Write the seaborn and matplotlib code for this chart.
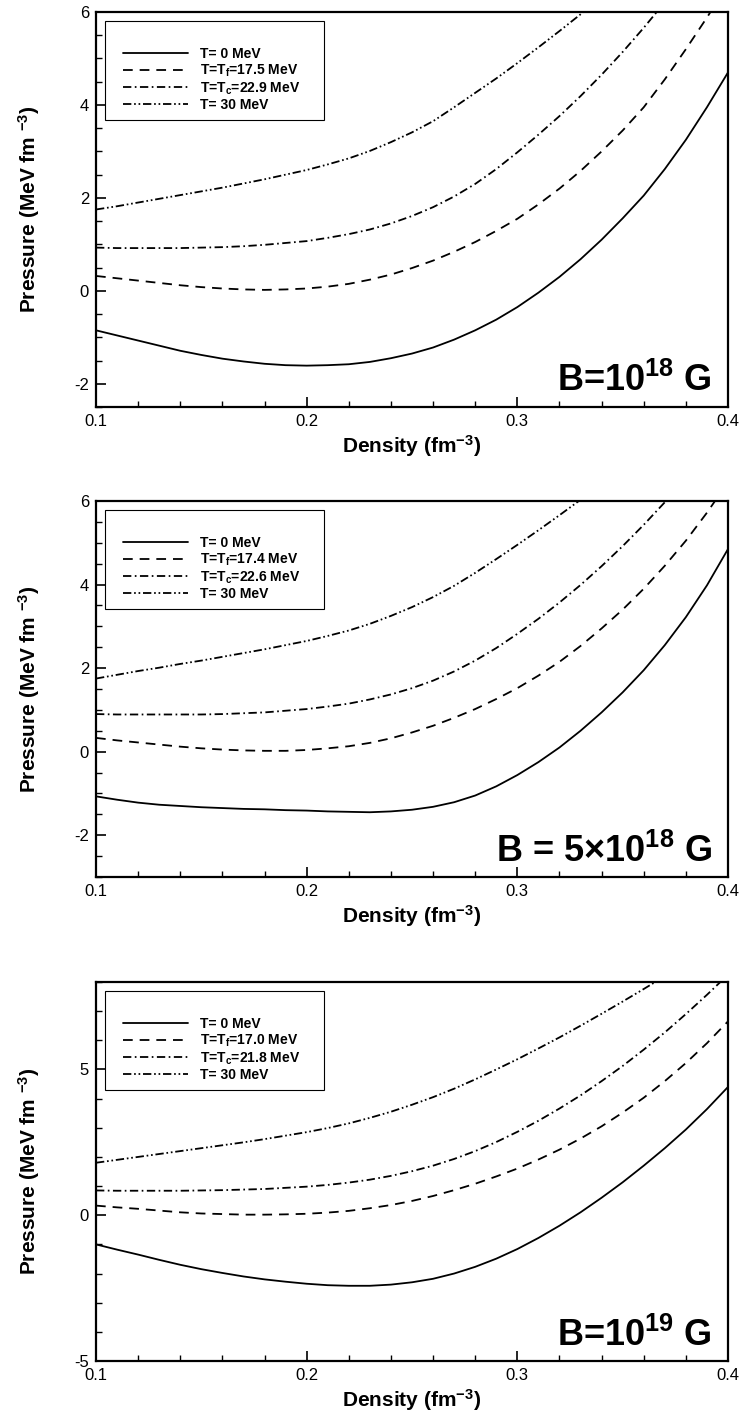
import numpy as np
import pandas as pd
import matplotlib
matplotlib.use("Agg")
import matplotlib.pyplot as plt
import matplotlib.patches as mpatches
import seaborn as sns
from matplotlib.ticker import MultipleLocator

# ---------------- data ----------------
density = [0.10, 0.11, 0.12, 0.13, 0.14, 0.15, 0.16, 0.17, 0.18, 0.19, 0.20,
           0.21, 0.22, 0.23, 0.24, 0.25, 0.26, 0.27, 0.28, 0.29, 0.30,
           0.31, 0.32, 0.33, 0.34, 0.35, 0.36, 0.37, 0.38, 0.39, 0.40]

# Panel 1: B = 1e18 G
p1_T0 = [-0.85, -0.96, -1.07, -1.18, -1.29, -1.38, -1.46, -1.52, -1.57, -1.60, -1.61,
         -1.60, -1.58, -1.53, -1.45, -1.35, -1.22, -1.05, -0.85, -0.62, -0.35,
         -0.04, 0.30, 0.68, 1.10, 1.56, 2.05, 2.62, 3.25, 3.95, 4.70]
p1_Tf = [0.32, 0.27, 0.22, 0.17, 0.12, 0.08, 0.05, 0.03, 0.02, 0.03, 0.05,
         0.09, 0.15, 0.24, 0.35, 0.49, 0.65, 0.84, 1.05, 1.29, 1.55,
         1.86, 2.20, 2.58, 3.00, 3.45, 3.95, 4.55, 5.20, 5.88, 6.60]
p1_Tc = [0.93, 0.92, 0.92, 0.92, 0.92, 0.93, 0.94, 0.96, 0.99, 1.03, 1.07,
         1.14, 1.22, 1.32, 1.45, 1.61, 1.80, 2.03, 2.30, 2.62, 2.98,
         3.36, 3.76, 4.19, 4.65, 5.14, 5.66, 6.21, 6.79, 7.40, 8.00]
p1_T30 = [1.75, 1.82, 1.90, 1.98, 2.06, 2.14, 2.22, 2.31, 2.40, 2.50, 2.60,
          2.72, 2.85, 3.01, 3.20, 3.41, 3.65, 3.95, 4.26, 4.57, 4.90,
          5.24, 5.59, 5.95, 6.32, 6.70, 7.10, 7.50, 7.90, 8.30, 8.70]

# Panel 2: B = 5e18 G
p2_T0 = [-1.07, -1.15, -1.22, -1.27, -1.30, -1.33, -1.35, -1.37, -1.38, -1.40, -1.41,
         -1.43, -1.44, -1.45, -1.43, -1.39, -1.32, -1.21, -1.05, -0.83, -0.56,
         -0.25, 0.10, 0.50, 0.94, 1.42, 1.95, 2.55, 3.22, 3.98, 4.85]
p2_Tf = [0.33, 0.27, 0.22, 0.17, 0.12, 0.08, 0.05, 0.03, 0.02, 0.02, 0.04,
         0.08, 0.13, 0.21, 0.32, 0.46, 0.62, 0.81, 1.02, 1.26, 1.52,
         1.82, 2.15, 2.53, 2.95, 3.40, 3.90, 4.45, 5.05, 5.72, 6.45]
p2_Tc = [0.90, 0.89, 0.89, 0.89, 0.89, 0.89, 0.90, 0.92, 0.94, 0.98, 1.02,
         1.08, 1.15, 1.25, 1.37, 1.52, 1.70, 1.92, 2.18, 2.48, 2.82,
         3.18, 3.57, 3.99, 4.44, 4.92, 5.43, 5.97, 6.54, 7.14, 7.77]
p2_T30 = [1.75, 1.84, 1.93, 2.01, 2.10, 2.18, 2.27, 2.36, 2.45, 2.55, 2.65,
          2.77, 2.90, 3.06, 3.25, 3.46, 3.70, 3.97, 4.28, 4.61, 4.95,
          5.30, 5.66, 6.03, 6.41, 6.80, 7.20, 7.60, 8.00, 8.40, 8.80]

# Panel 3: B = 1e19 G
p3_T0 = [-1.00, -1.18, -1.35, -1.53, -1.70, -1.85, -1.98, -2.10, -2.20, -2.28, -2.35,
         -2.40, -2.42, -2.42, -2.38, -2.30, -2.18, -2.00, -1.77, -1.49, -1.16,
         -0.78, -0.36, 0.10, 0.60, 1.13, 1.70, 2.30, 2.94, 3.64, 4.40]
p3_Tf = [0.33, 0.27, 0.22, 0.16, 0.10, 0.06, 0.04, 0.02, 0.02, 0.03, 0.05,
         0.09, 0.15, 0.24, 0.35, 0.49, 0.66, 0.86, 1.08, 1.33, 1.60,
         1.91, 2.25, 2.63, 3.05, 3.52, 4.03, 4.60, 5.22, 5.90, 6.65]
p3_Tc = [0.85, 0.84, 0.84, 0.84, 0.84, 0.85, 0.86, 0.88, 0.90, 0.94, 0.98,
         1.04, 1.12, 1.22, 1.35, 1.51, 1.70, 1.93, 2.20, 2.51, 2.86,
         3.24, 3.66, 4.11, 4.60, 5.12, 5.68, 6.27, 6.90, 7.56, 8.25]
p3_T30 = [1.80, 1.90, 2.00, 2.10, 2.20, 2.30, 2.40, 2.50, 2.61, 2.73, 2.85,
          2.99, 3.15, 3.34, 3.55, 3.79, 4.05, 4.34, 4.66, 5.00, 5.35,
          5.72, 6.10, 6.50, 6.91, 7.33, 7.76, 8.20, 8.65, 9.10, 9.55]

labels_p1 = ["T= 0 MeV", r"T=T$_{\mathbf{f}}$=17.5 MeV", r"T=T$_{\mathbf{c}}$=22.9 MeV", "T= 30 MeV"]
labels_p2 = ["T= 0 MeV", r"T=T$_{\mathbf{f}}$=17.4 MeV", r"T=T$_{\mathbf{c}}$=22.6 MeV", "T= 30 MeV"]
labels_p3 = ["T= 0 MeV", r"T=T$_{\mathbf{f}}$=17.0 MeV", r"T=T$_{\mathbf{c}}$=21.8 MeV", "T= 30 MeV"]

field_labels = [r"B=10$^{\mathbf{18}}$ G", "B = 5\u00d710$^{\\mathbf{18}}$ G", r"B=10$^{\mathbf{19}}$ G"]
ylims = [(-2.5, 6), (-3, 6), (-5, 8)]
ymajor = [2, 2, 5]
yminor = [0.5, 0.5, 1]
xticks = [0.1, 0.2, 0.3, 0.4]

# ---------------- style ----------------
sns.set_style("ticks")
plt.rcParams["font.family"] = ["Liberation Sans", "DejaVu Sans"]
plt.rcParams["mathtext.fontset"] = "custom"
plt.rcParams["mathtext.rm"] = "Liberation Sans"
plt.rcParams["mathtext.bf"] = "Liberation Sans:bold"
plt.rcParams["mathtext.it"] = "Liberation Sans:italic"
plt.rcParams["lines.scale_dashes"] = False
plt.rcParams["axes.unicode_minus"] = False
for k in ["text.color", "axes.labelcolor", "xtick.color", "ytick.color", "axes.edgecolor"]:
    plt.rcParams[k] = "black"

styles = ["-", (0, (7, 5)), (0, (6, 2.5, 1.2, 2.5)), (0, (6, 2, 1.2, 2, 1.2, 2))]

W, H = 745, 1414
fig = plt.figure(figsize=(W / 100, H / 100), dpi=100)

rects_px = [(96, 12, 728, 407), (96, 501, 728, 877), (96, 982, 728, 1361)]
panels = [
    (p1_T0, p1_Tf, p1_Tc, p1_T30, labels_p1),
    (p2_T0, p2_Tf, p2_Tc, p2_T30, labels_p2),
    (p3_T0, p3_Tf, p3_Tc, p3_T30, labels_p3),
]

for i, ((l, t, r, b), pdata) in enumerate(zip(rects_px, panels)):
    w, h = r - l, b - t
    ax = fig.add_axes([l / W, 1 - b / H, w / W, h / H])
    series = pdata[:4]
    labs = pdata[4]
    for vals, lab, ls in zip(series, labs, styles):
        df = pd.DataFrame({"density": density, "pressure": vals})
        sns.lineplot(data=df, x="density", y="pressure", ax=ax, color="black",
                     linestyle=ls, linewidth=1.3, label=lab)
    ax.set_xlim(0.1, 0.4)
    ax.set_ylim(*ylims[i])
    ax.set_xticks(xticks)
    ax.set_xticklabels([f"{v:.1f}" for v in xticks])
    ax.xaxis.set_minor_locator(MultipleLocator(0.02))
    ax.yaxis.set_major_locator(MultipleLocator(ymajor[i]))
    ax.yaxis.set_minor_locator(MultipleLocator(yminor[i]))
    ax.tick_params(which="major", direction="in", length=7, width=1.2, labelsize=12, pad=5)
    ax.tick_params(which="minor", direction="in", length=4, width=1.0)
    ax.tick_params(top=False, right=False, which="both")
    for s in ax.spines.values():
        s.set_linewidth(1.6)
        s.set_color("black")
    ax.set_xlabel(r"Density (fm$^{\mathbf{-3}}$)", fontsize=15, fontweight="bold")
    ax.set_ylabel(r"Pressure (MeV fm $^{\mathbf{-3}}$)", fontsize=15, fontweight="bold")
    ax.yaxis.set_label_coords(-0.086, 0.5)
    ax.xaxis.set_label_coords(0.5, -26 / h)

    # legend frame box
    box = mpatches.Rectangle((9 / w, 1 - 108 / h), 219 / w, 99 / h, transform=ax.transAxes,
                             facecolor="white", edgecolor="black", linewidth=0.8, zorder=4)
    ax.add_patch(box)
    leg = ax.legend(loc="upper left", bbox_to_anchor=(27 / w, 1 - 35 / h), borderaxespad=0,
                    frameon=False, prop={"weight": "bold", "size": 10}, handlelength=4.7,
                    handletextpad=0.85, labelspacing=0.1, borderpad=0)
    leg.set_zorder(5)
    ax.text(0.975, 0.04, field_labels[i], transform=ax.transAxes, ha="right", va="baseline",
            fontsize=26, fontweight="bold")

fig.savefig("out.png", dpi=100, facecolor="white")
